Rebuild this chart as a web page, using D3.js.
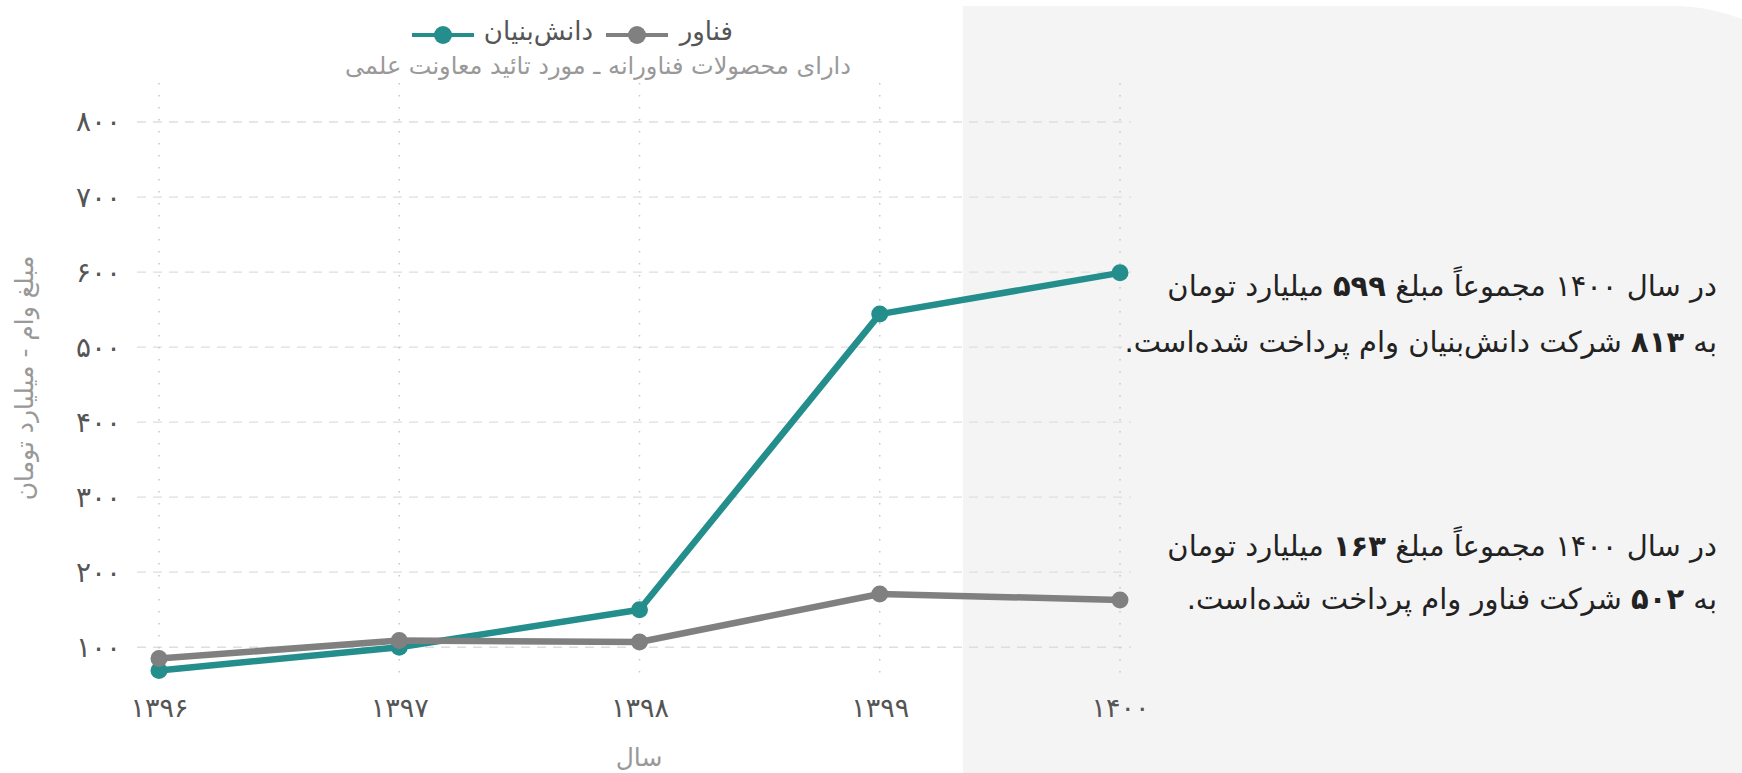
<!DOCTYPE html>
<html>
<head>
<meta charset="utf-8">
<script src="https://cdn.jsdelivr.net/npm/d3@7"></script>
<style>
  body { margin: 0; background: #fff; }
  svg { display: block; font-family: "DejaVu Sans", sans-serif; }
</style>
</head>
<body>
<svg id="chart" width="1742" height="773"></svg>
<script>
// data
const years = ['۱۳۹۶', '۱۳۹۷', '۱۳۹۸', '۱۳۹۹', '۱۴۰۰']
const daneshValues = [69, 100, 150, 544, 599]   // دانش‌بنیان
const fanavarValues = [85, 109, 107, 171, 163]  // فناور
const yTicks = [100, 200, 300, 400, 500, 600, 700, 800]
const seriesNames = ['فناور', 'دانش‌بنیان']

const teal = '#238e8c'
const grey = '#808080'

const faDigits = s => String(s).replace(/\d/g, d => '۰۱۲۳۴۵۶۷۸۹'[d])

const svg = d3.select('#chart')

// shaded panel on the right
svg.append('path')
  .attr('d', 'M963,6 H1673 A190,190 0 0 1 1863,196 V773 H963 Z')
  .attr('fill', '#f4f4f4')

const x = d3.scalePoint().domain(years).range([159, 1120])
const y = d3.scaleLinear().domain([55, 852]).range([681, 83])

// horizontal dashed grid
svg.append('g')
  .selectAll('line')
  .data(yTicks)
  .join('line')
  .attr('x1', 137).attr('x2', 1131)
  .attr('y1', d => y(d)).attr('y2', d => y(d))
  .attr('stroke', '#dedede')
  .attr('stroke-width', 1.3)
  .attr('stroke-dasharray', '9,7')

// vertical dotted grid
svg.append('g')
  .selectAll('line')
  .data(years)
  .join('line')
  .attr('x1', d => x(d)).attr('x2', d => x(d))
  .attr('y1', 83).attr('y2', 681)
  .attr('stroke', '#c8c8c8')
  .attr('stroke-width', 1.5)
  .attr('stroke-dasharray', '1.5,10.5')

// y axis
const yAxis = svg.append('g')
  .attr('transform', 'translate(137,0)')
  .call(d3.axisLeft(y).tickValues(yTicks).tickSize(0).tickPadding(16).tickFormat(faDigits))
yAxis.select('.domain').remove()
yAxis.selectAll('text')
  .attr('fill', '#555')
  .style('font-size', '28px')
  .style('font-family', '"DejaVu Sans", sans-serif')

// x axis
const xAxis = svg.append('g')
  .attr('transform', 'translate(0,681)')
  .call(d3.axisBottom(x).tickSize(0))
xAxis.select('.domain').remove()
xAxis.selectAll('text')
  .attr('y', 27)
  .attr('dy', '0.35em')
  .attr('fill', '#555')
  .style('font-size', '27px')
  .style('font-family', '"DejaVu Sans", sans-serif')

// axis titles
svg.append('text')
  .attr('x', 639).attr('y', 757)
  .attr('text-anchor', 'middle')
  .attr('dominant-baseline', 'central')
  .attr('fill', '#999')
  .style('font-size', '25px')
  .text('سال')

svg.append('text')
  .attr('transform', 'translate(24,378) rotate(-90)')
  .attr('text-anchor', 'middle')
  .attr('dominant-baseline', 'central')
  .attr('fill', '#999')
  .style('font-size', '25px')
  .text('مبلغ وام - میلیارد تومان')

// lines
const line = d3.line().x((d, i) => x(years[i])).y(d => y(d))

const drawSeries = (values, color) => {
  svg.append('path')
    .datum(values)
    .attr('d', line)
    .attr('fill', 'none')
    .attr('stroke', color)
    .attr('stroke-width', 6.5)
    .attr('stroke-linejoin', 'round')
  svg.append('g')
    .selectAll('circle')
    .data(values)
    .join('circle')
    .attr('cx', (d, i) => x(years[i]))
    .attr('cy', d => y(d))
    .attr('r', 8.5)
    .attr('fill', color)
}
drawSeries(daneshValues, teal)
drawSeries(fanavarValues, grey)

// legend
const legendItems = [
  { name: seriesNames[0], color: grey, textEnd: 733, sym: 637 },
  { name: seriesNames[1], color: teal, textEnd: 593, sym: 443 }
]
const lg = svg.append('g')
legendItems.forEach(it => {
  lg.append('line')
    .attr('x1', it.sym - 31).attr('x2', it.sym + 31)
    .attr('y1', 35).attr('y2', 35)
    .attr('stroke', it.color).attr('stroke-width', 4)
  lg.append('circle')
    .attr('cx', it.sym).attr('cy', 35).attr('r', 9)
    .attr('fill', it.color)
  lg.append('text')
    .attr('x', it.textEnd).attr('y', 31)
    .attr('text-anchor', 'end')
    .attr('dominant-baseline', 'central')
    .attr('fill', '#555')
    .style('font-size', '26px')
    .text(it.name)
})
svg.append('text')
  .attr('x', 598).attr('y', 66)
  .attr('text-anchor', 'middle')
  .attr('dominant-baseline', 'central')
  .attr('fill', '#999')
  .style('font-size', '24px')
  .text('دارای محصولات فناورانه ـ مورد تائید معاونت علمی')

// annotations
const notes = [
  { y: 286, parts: [['در سال ۱۴۰۰ مجموعاً مبلغ  ', false], ['۵۹۹', true], [' میلیارد تومان', false]] },
  { y: 342, parts: [['به ', false], ['۸۱۳', true], [' شرکت دانش‌بنیان وام پرداخت شده‌است.', false]] },
  { y: 546, parts: [['در سال ۱۴۰۰ مجموعاً مبلغ  ', false], ['۱۶۳', true], [' میلیارد تومان', false]] },
  { y: 599, parts: [['به ', false], ['۵۰۲', true], [' شرکت فناور وام پرداخت شده‌است.', false]] }
]
notes.forEach(n => {
  const t = svg.append('text')
    .attr('x', 1717).attr('y', n.y)
    .attr('direction', 'rtl')
    .attr('text-anchor', 'start')
    .attr('dominant-baseline', 'central')
    .attr('fill', '#222')
    .style('font-size', '29px')
  n.parts.forEach(p => {
    t.append('tspan')
      .attr('font-weight', p[1] ? 'bold' : 'normal')
      .text(p[0])
  })
})
</script>
</body>
</html>
